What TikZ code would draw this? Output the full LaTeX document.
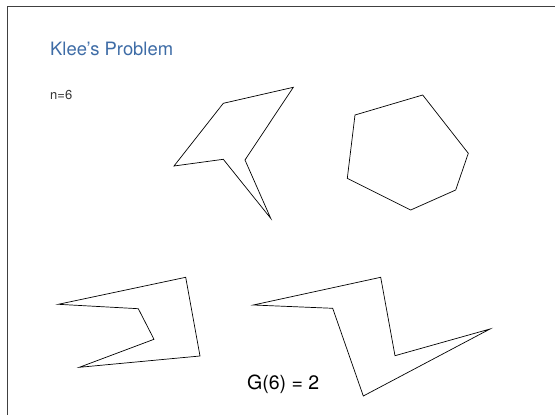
\documentclass[tikz,border=0pt]{standalone}
\usepackage{fontspec}
\setmainfont{TeX Gyre Heros}
\usepackage{xcolor}
\definecolor{titleblue}{RGB}{62,108,166}

\begin{document}
\begin{tikzpicture}[x=1pt,y=-1pt,line join=miter]
    % slide size in pixels (y grows downward)
    \useasboundingbox (0,0) rectangle (555,415);

    % slide frame (top and left edge only)
    \draw[line width=1pt,black!75] (555,6) -- (7,6) -- (7,415);

    % texts
    \node[anchor=base west,inner sep=0pt,text=titleblue,font=\fontsize{18.4}{22}\selectfont]
        (title) at (50,55) {Klee’s Problem};
    \node[anchor=base west,inner sep=0pt,text=black!80,font=\fontsize{13}{15}\selectfont]
        (nval) at (50,99) {n=6};
    \node[anchor=base west,inner sep=0pt,font=\fontsize{19.5}{23}\selectfont]
        (guards) at (247,389.5) {G(6) = 2};

    % the four hexagons
    \draw[line width=0.7pt] (223.3,103.3) -- (293.3,87.3) -- (245,160) -- (270.7,218.3)
        -- (223.3,159.3) -- (174,166) -- cycle;
    \draw[line width=0.7pt] (422.7,95) -- (468.3,153.3) -- (455.7,190) -- (410.7,210)
        -- (347.3,178.3) -- (355,115) -- cycle;
    \draw[line width=0.7pt] (58.3,304.3) -- (185.7,277.3) -- (200,356) -- (79.3,367.3)
        -- (154,339.3) -- (138.3,308.7) -- cycle;
    \draw[line width=0.7pt] (253.3,305) -- (380.7,277.3) -- (395,355.7) -- (490,329)
        -- (363.3,396) -- (332.7,308.3) -- cycle;
\end{tikzpicture}
\end{document}
